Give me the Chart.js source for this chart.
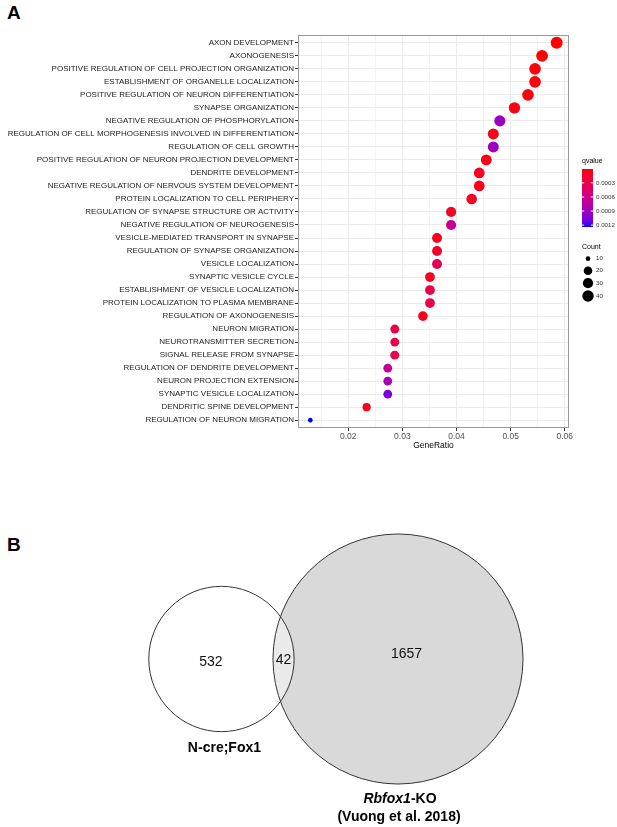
<!DOCTYPE html>
<html lang="en">
<head>
  <meta charset="UTF-8">
  <title>GO enrichment and overlap</title>
  <script src="https://cdn.jsdelivr.net/npm/chart.js"></script>
  <style>
    * { box-sizing: border-box; }
    body {
      margin: 0;
      width: 617px;
      height: 827px;
      overflow: hidden;
      background: #ffffff;
      font-family: "Liberation Sans", Arial, sans-serif;
      position: relative;
    }
    canvas { position: absolute; left: 0; }
    #dotChart { top: 0; }
    #vennChart { top: 455px; }
    .panel-letter {
      position: absolute;
      font-weight: bold;
      font-size: 19px;
      line-height: 19px;
      color: #000;
    }
  </style>
</head>
<body>
  <div class="panel-letter" style="left: 7px; top: 3px;">A</div>
  <div class="panel-letter" style="left: 7px; top: 535px;">B</div>
  <canvas id="dotChart" width="617" height="455"></canvas>
  <canvas id="vennChart" width="617" height="372"></canvas>

  <script>
    // ---- panel A data ----
    const categories = [
      'AXON DEVELOPMENT',
      'AXONOGENESIS',
      'POSITIVE REGULATION OF CELL PROJECTION ORGANIZATION',
      'ESTABLISHMENT OF ORGANELLE LOCALIZATION',
      'POSITIVE REGULATION OF NEURON DIFFERENTIATION',
      'SYNAPSE ORGANIZATION',
      'NEGATIVE REGULATION OF PHOSPHORYLATION',
      'REGULATION OF CELL MORPHOGENESIS INVOLVED IN DIFFERENTIATION',
      'REGULATION OF CELL GROWTH',
      'POSITIVE REGULATION OF NEURON PROJECTION DEVELOPMENT',
      'DENDRITE DEVELOPMENT',
      'NEGATIVE REGULATION OF NERVOUS SYSTEM DEVELOPMENT',
      'PROTEIN LOCALIZATION TO CELL PERIPHERY',
      'REGULATION OF SYNAPSE STRUCTURE OR ACTIVITY',
      'NEGATIVE REGULATION OF NEUROGENESIS',
      'VESICLE-MEDIATED TRANSPORT IN SYNAPSE',
      'REGULATION OF SYNAPSE ORGANIZATION',
      'VESICLE LOCALIZATION',
      'SYNAPTIC VESICLE CYCLE',
      'ESTABLISHMENT OF VESICLE LOCALIZATION',
      'PROTEIN LOCALIZATION TO PLASMA MEMBRANE',
      'REGULATION OF AXONOGENESIS',
      'NEURON MIGRATION',
      'NEUROTRANSMITTER SECRETION',
      'SIGNAL RELEASE FROM SYNAPSE',
      'REGULATION OF DENDRITE DEVELOPMENT',
      'NEURON PROJECTION EXTENSION',
      'SYNAPTIC VESICLE LOCALIZATION',
      'DENDRITIC SPINE DEVELOPMENT',
      'REGULATION OF NEURON MIGRATION'
    ];
    const geneRatio = [
      0.0585, 0.0558, 0.0545, 0.0545, 0.0532, 0.0507, 0.0480, 0.0468, 0.0468, 0.0455,
      0.0442, 0.0442, 0.0428, 0.0390, 0.0390, 0.0364, 0.0364, 0.0364, 0.0351, 0.0351,
      0.0351, 0.0338, 0.0286, 0.0286, 0.0286, 0.0273, 0.0273, 0.0273, 0.0234, 0.0130
    ];
    const counts = [
      45, 43, 42, 42, 41, 39, 37, 36, 36, 35,
      34, 34, 33, 30, 30, 28, 28, 28, 27, 27,
      27, 26, 22, 22, 22, 21, 21, 21, 18, 10
    ];
    const qvalues = [
      0.000004, 0.00001, 0.00002, 0.00002, 0.00003, 0.00004, 0.00094, 0.00006, 0.00091, 0.00006,
      0.00008, 0.00008, 0.0001, 0.0001, 0.00066, 0.00008, 0.00013, 0.00034, 0.00008, 0.00031,
      0.00031, 0.00006, 0.00024, 0.00029, 0.00029, 0.00070, 0.00086, 0.00106, 0.00006, 0.00124
    ];
    const xTicks = [0.02, 0.03, 0.04, 0.05, 0.06];
    const xMinor = [0.015, 0.025, 0.035, 0.045, 0.055];
    const qTicks = [0.0003, 0.0006, 0.0009, 0.0012];
    const countTicks = [10, 20, 30, 40];

    // ---- panel B data ----
    const setNames = ['N-cre;Fox1', 'Rbfox1-KO'];
    const setNote = '(Vuong et al. 2018)';
    const onlyFox1 = 532;
    const onlyRbfox1 = 1657;
    const shared = 42;

    // ---- colour ramp red -> blue in Lab, like ggplot ----
    function toLin(c) { c /= 255; return c <= 0.04045 ? c / 12.92 : Math.pow((c + 0.055) / 1.055, 2.4); }
    function rgbToLab(rgb) {
      const R = toLin(rgb[0]), G = toLin(rgb[1]), B = toLin(rgb[2]);
      const X = (0.4124564 * R + 0.3575761 * G + 0.1804375 * B) / 0.95047;
      const Y = (0.2126729 * R + 0.7151522 * G + 0.0721750 * B);
      const Z = (0.0193339 * R + 0.1191920 * G + 0.9503041 * B) / 1.08883;
      const f = t => t > 216 / 24389 ? Math.cbrt(t) : (24389 / 27 * t + 16) / 116;
      const fx = f(X), fy = f(Y), fz = f(Z);
      return [116 * fy - 16, 500 * (fx - fy), 200 * (fy - fz)];
    }
    function labToRgb(lab) {
      const fy = (lab[0] + 16) / 116, fx = fy + lab[1] / 500, fz = fy - lab[2] / 200;
      const inv = t => t * t * t > 216 / 24389 ? t * t * t : (116 * t - 16) / (24389 / 27);
      const X = inv(fx) * 0.95047, Y = inv(fy), Z = inv(fz) * 1.08883;
      const R = 3.2404542 * X - 1.5371385 * Y - 0.4985314 * Z;
      const G = -0.9692660 * X + 1.8760108 * Y + 0.0415560 * Z;
      const B = 0.0556434 * X - 0.2040259 * Y + 1.0572252 * Z;
      const g = c => {
        c = c <= 0.0031308 ? 12.92 * c : 1.055 * Math.pow(c, 1 / 2.4) - 0.055;
        return Math.round(Math.min(1, Math.max(0, c)) * 255);
      };
      return 'rgb(' + g(R) + ',' + g(G) + ',' + g(B) + ')';
    }
    const labLow = rgbToLab([255, 0, 0]);
    const labHigh = rgbToLab([0, 0, 255]);
    const qMin = Math.min(...qvalues), qMax = Math.max(...qvalues);
    function qColor(q) {
      const t = Math.min(1, Math.max(0, (q - qMin) / (qMax - qMin)));
      return labToRgb(labLow.map((v, i) => v + (labHigh[i] - v) * t));
    }

    // point diameter follows area scaling between the smallest and largest count
    const cMin = Math.min(...counts), cMax = Math.max(...counts);
    function dotRadius(c) {
      const t = Math.max(0, (c - cMin) / (cMax - cMin));
      return (4.7 + 7.3 * Math.sqrt(t)) / 2;
    }

    const FONT = '"Liberation Sans", Arial, sans-serif';

    const panelPlugin = {
      id: 'panelExtras',
      afterDraw(chart) {
        const ctx = chart.ctx;
        const a = chart.chartArea;
        ctx.save();
        // panel border
        ctx.strokeStyle = '#9a9a9a';
        ctx.lineWidth = 1;
        ctx.strokeRect(a.left + 0.5, a.top + 0.5, a.right - a.left - 1, a.bottom - a.top - 1);

        // qvalue colour bar
        const bx = 582, bw = 11, by0 = 169, by1 = 227;
        ctx.fillStyle = '#000';
        ctx.font = '7px ' + FONT;
        ctx.textBaseline = 'middle';
        ctx.textAlign = 'left';
        ctx.fillText('qvalue', 582, 161);
        const grad = ctx.createLinearGradient(0, by0, 0, by1);
        for (let i = 0; i <= 20; i++) {
          grad.addColorStop(i / 20, qColor(qMin + (qMax - qMin) * i / 20));
        }
        ctx.fillStyle = grad;
        ctx.fillRect(bx, by0, bw, by1 - by0);
        ctx.strokeStyle = '#ffffff';
        ctx.lineWidth = 1;
        ctx.font = '6.2px ' + FONT;
        qTicks.forEach(v => {
          const y = by0 + (v - qMin) / (qMax - qMin) * (by1 - by0);
          ctx.beginPath();
          ctx.moveTo(bx, y); ctx.lineTo(bx + 2.2, y);
          ctx.moveTo(bx + bw - 2.2, y); ctx.lineTo(bx + bw, y);
          ctx.stroke();
          ctx.fillStyle = '#333';
          ctx.fillText(v.toFixed(4), 596, y);
        });

        // Count size legend
        ctx.fillStyle = '#000';
        ctx.font = '7px ' + FONT;
        ctx.fillText('Count', 582, 247);
        const rowY = [258.7, 270.7, 283.2, 296];
        countTicks.forEach((c, i) => {
          ctx.fillStyle = '#000';
          ctx.beginPath();
          ctx.arc(588, rowY[i], dotRadius(c), 0, Math.PI * 2);
          ctx.fill();
          ctx.fillStyle = '#333';
          ctx.font = '6.2px ' + FONT;
          ctx.fillText(String(c), 596, rowY[i]);
        });
        ctx.restore();
      }
    };

    new Chart(document.getElementById('dotChart'), {
      type: 'scatter',
      data: {
        datasets: [{
          data: geneRatio.map((g, i) => ({ x: g, y: i })),
          pointRadius: ctx => dotRadius(counts[ctx.dataIndex]),
          pointHoverRadius: ctx => dotRadius(counts[ctx.dataIndex]),
          pointBackgroundColor: ctx => qColor(qvalues[ctx.dataIndex]),
          pointBorderWidth: 0
        }]
      },
      options: {
        responsive: false,
        animation: false,
        events: [],
        layout: { padding: { top: 35, right: 48, bottom: 0, left: 0 } },
        plugins: { legend: { display: false }, tooltip: { enabled: false } },
        scales: {
          x: {
            type: 'linear',
            min: 0.010725,
            max: 0.060775,
            afterBuildTicks: axis => {
              axis.ticks = xMinor.concat(xTicks).sort((p, q) => p - q).map(v => ({ value: v }));
            },
            afterFit: s => { s.height = 27; },
            border: { display: false },
            grid: {
              color: ctx => xTicks.includes(ctx.tick.value) ? '#ebebeb' : '#f3f3f3',
              tickColor: ctx => xTicks.includes(ctx.tick.value) ? '#333' : 'rgba(0,0,0,0)',
              tickLength: 3
            },
            ticks: {
              autoSkip: false,
              maxRotation: 0,
              padding: 1,
              color: '#4d4d4d',
              font: { family: FONT, size: 8.5 },
              callback: v => xTicks.includes(v) ? String(v) : ''
            },
            title: {
              display: true,
              text: 'GeneRatio',
              color: '#000',
              font: { family: FONT, size: 8.5 },
              padding: { top: 0, bottom: 4 }
            }
          },
          y: {
            type: 'linear',
            reverse: true,
            min: -0.6,
            max: categories.length - 0.4,
            afterBuildTicks: axis => {
              axis.ticks = categories.map((c, i) => ({ value: i }));
            },
            afterFit: s => { s.width = 298; },
            border: { display: false },
            grid: { color: '#ebebeb', tickColor: '#333', tickLength: 3 },
            ticks: {
              autoSkip: false,
              padding: 1,
              color: '#222',
              font: { family: FONT, size: 8 },
              callback: v => categories[v]
            }
          }
        }
      },
      plugins: [panelPlugin]
    });

    // ---- panel B: area-proportional Venn drawn as bubbles ----
    const AREA_PER_GENE = 28.9;   // px^2 per gene
    const rFox1 = Math.sqrt((onlyFox1 + shared) * AREA_PER_GENE / Math.PI);
    const rRbfox1 = Math.sqrt((onlyRbfox1 + shared) * AREA_PER_GENE / Math.PI);
    function lensArea(d, r1, r2) {
      if (d >= r1 + r2) return 0;
      if (d <= Math.abs(r1 - r2)) return Math.PI * Math.min(r1, r2) ** 2;
      const a1 = Math.acos((d * d + r1 * r1 - r2 * r2) / (2 * d * r1));
      const a2 = Math.acos((d * d + r2 * r2 - r1 * r1) / (2 * d * r2));
      return r1 * r1 * (a1 - Math.sin(2 * a1) / 2) + r2 * r2 * (a2 - Math.sin(2 * a2) / 2);
    }
    let lo = Math.abs(rFox1 - rRbfox1), hi = rFox1 + rRbfox1;
    const targetArea = shared * AREA_PER_GENE;
    for (let k = 0; k < 60; k++) {
      const mid = (lo + hi) / 2;
      if (lensArea(mid, rFox1, rRbfox1) > targetArea) lo = mid; else hi = mid;
    }
    const dist = (lo + hi) / 2;
    const bigX = 398, midY = 659;
    const smallX = bigX - dist;
    const circles = [
      { x: bigX, y: midY, r: rRbfox1 },
      { x: smallX, y: midY, r: rFox1 }
    ];

    const vennText = {
      id: 'vennText',
      afterDatasetsDraw(chart) {
        const ctx = chart.ctx;
        const xs = chart.scales.x, ys = chart.scales.y;
        const sx = xs.getPixelForValue(smallX), bx = xs.getPixelForValue(bigX);
        const cy = ys.getPixelForValue(midY);
        const smallLeft = sx - rFox1, smallRight = sx + rFox1;
        const bigLeft = bx - rRbfox1, bigRight = bx + rRbfox1;
        ctx.save();
        ctx.fillStyle = '#111';
        ctx.textAlign = 'center';
        ctx.textBaseline = 'middle';
        ctx.font = '14px ' + FONT;
        ctx.fillText(String(onlyFox1), (smallLeft + bigLeft) / 2, cy + 3);
        ctx.fillText(String(shared), (bigLeft + smallRight) / 2, cy + 1);
        ctx.fillText(String(onlyRbfox1), (smallRight + bigRight) / 2 - 2, cy - 5);

        ctx.fillStyle = '#000';
        ctx.font = 'bold 14px ' + FONT;
        ctx.fillText(setNames[0], sx + 3, cy + rFox1 + 16);

        // "Rbfox1" italic, "-KO" upright
        const name = setNames[1];
        const cut = name.indexOf('-');
        const ital = name.slice(0, cut), rest = name.slice(cut);
        ctx.font = 'italic bold 14px ' + FONT;
        const w1 = ctx.measureText(ital).width;
        ctx.font = 'bold 14px ' + FONT;
        const w2 = ctx.measureText(rest).width;
        const nameY = cy + rRbfox1 + 15;
        const startX = bx + 2 - (w1 + w2) / 2;
        ctx.textAlign = 'left';
        ctx.font = 'italic bold 14px ' + FONT;
        ctx.fillText(ital, startX, nameY);
        ctx.font = 'bold 14px ' + FONT;
        ctx.fillText(rest, startX + w1, nameY);
        ctx.textAlign = 'center';
        ctx.fillText(setNote, bx + 1, nameY + 18);
        ctx.restore();
      }
    };

    new Chart(document.getElementById('vennChart'), {
      type: 'bubble',
      data: {
        datasets: [
          {
            data: circles,
            backgroundColor: ['#d9d9d9', 'rgba(255,255,255,0.45)'],
            borderWidth: 0,
            clip: false,
            order: 1
          },
          {
            data: circles,
            backgroundColor: 'rgba(0,0,0,0)',
            borderColor: '#333',
            borderWidth: 1,
            clip: false,
            order: 0
          }
        ]
      },
      options: {
        responsive: false,
        animation: false,
        events: [],
        layout: { padding: 0, autoPadding: false },
        plugins: { legend: { display: false }, tooltip: { enabled: false } },
        scales: {
          x: { display: false, min: 0, max: 617 },
          y: { display: false, min: 455, max: 827, reverse: true }
        }
      },
      plugins: [vennText]
    });
  </script>
</body>
</html>
